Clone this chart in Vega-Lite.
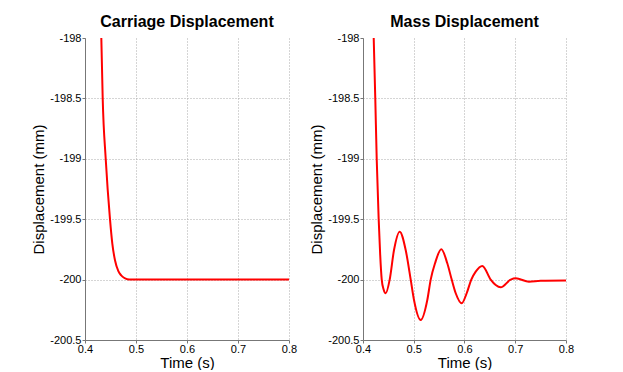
{
  "$schema": "https://vega.github.io/schema/vega-lite/v6.json",
  "background": "white",
  "padding": {"left": 31, "top": 14, "right": 5, "bottom": 0},
  "spacing": 74,
  "bounds": "flush",
  "datasets": {
    "carriage": [
      {"t": 0.432, "d": -198.0},
      {"t": 0.4347, "d": -198.5},
      {"t": 0.4406, "d": -199.0},
      {"t": 0.449, "d": -199.5},
      {"t": 0.4535, "d": -199.7},
      {"t": 0.4588, "d": -199.84},
      {"t": 0.4654, "d": -199.93},
      {"t": 0.471, "d": -199.965},
      {"t": 0.4765, "d": -199.985},
      {"t": 0.483, "d": -199.997},
      {"t": 0.49, "d": -200.0},
      {"t": 0.6, "d": -200.0},
      {"t": 0.7, "d": -200.0},
      {"t": 0.8, "d": -200.0}
    ],
    "mass": [
      {"t": 0.4211, "d": -198.0},
      {"t": 0.4242, "d": -198.5},
      {"t": 0.427, "d": -199.0},
      {"t": 0.4309, "d": -199.5},
      {"t": 0.4337, "d": -199.78},
      {"t": 0.4369, "d": -200.0},
      {"t": 0.4405, "d": -200.08},
      {"t": 0.4447, "d": -200.113},
      {"t": 0.4526, "d": -200.0},
      {"t": 0.4611, "d": -199.755},
      {"t": 0.4723, "d": -199.603},
      {"t": 0.4841, "d": -199.755},
      {"t": 0.494, "d": -200.0},
      {"t": 0.5005, "d": -200.169},
      {"t": 0.5137, "d": -200.334},
      {"t": 0.5267, "d": -200.169},
      {"t": 0.5334, "d": -200.0},
      {"t": 0.5419, "d": -199.865},
      {"t": 0.5543, "d": -199.749},
      {"t": 0.5661, "d": -199.865},
      {"t": 0.5748, "d": -200.0},
      {"t": 0.5827, "d": -200.113},
      {"t": 0.5945, "d": -200.196},
      {"t": 0.6043, "d": -200.113},
      {"t": 0.6134, "d": -200.0},
      {"t": 0.6221, "d": -199.934},
      {"t": 0.6351, "d": -199.887},
      {"t": 0.6516, "d": -200.0},
      {"t": 0.6615, "d": -200.045},
      {"t": 0.6713, "d": -200.064},
      {"t": 0.691, "d": -200.0},
      {"t": 0.7009, "d": -199.989},
      {"t": 0.7271, "d": -200.017},
      {"t": 0.75, "d": -200.01},
      {"t": 0.8, "d": -200.008}
    ]
  },
  "config": {
    "font": "Liberation Sans",
    "locale": {"number": {"decimal": ".", "thousands": ",", "grouping": [3], "currency": ["$", ""], "minus": "-"}},
    "view": {"stroke": null},
    "axis": {
      "labelFont": "Liberation Sans",
      "labelFontSize": 11,
      "labelColor": "#000",
      "labelFlush": false,
      "titleFont": "Liberation Sans",
      "titleFontSize": 15,
      "titleFontWeight": "normal",
      "titleColor": "#000",
      "domainColor": "#777",
      "tickColor": "#777",
      "tickSize": 3,
      "gridColor": "#aaa",
      "gridDash": [1, 2],
      "gridWidth": 1
    },
    "axisX": {"labelPadding": 0, "titlePadding": 1},
    "axisY": {"labelPadding": 1, "titlePadding": 3},
    "title": {"font": "Liberation Sans", "fontSize": 16, "fontWeight": "bold", "color": "#000", "offset": 2}
  },
  "hconcat": [
    {
      "title": "Carriage Displacement",
      "width": 204,
      "height": 302,
      "data": {"name": "carriage"},
      "mark": {"type": "line", "color": "#ff0000", "strokeWidth": 2, "interpolate": "monotone", "clip": true},
      "encoding": {
        "x": {"field": "t", "type": "quantitative", "scale": {"domain": [0.4, 0.8], "nice": false, "zero": false},
              "axis": {"values": [0.4, 0.5, 0.6, 0.7, 0.8], "format": "~g", "title": "Time (s)"}},
        "y": {"field": "d", "type": "quantitative", "scale": {"domain": [-200.5, -198], "nice": false, "zero": false},
              "axis": {"values": [-200.5, -200, -199.5, -199, -198.5, -198], "format": "~g", "title": "Displacement (mm)",
                       "gridOpacity": {"condition": {"test": "datum.value == -198", "value": 0}, "value": 1}}}
      }
    },
    {
      "title": "Mass Displacement",
      "width": 203,
      "height": 302,
      "data": {"name": "mass"},
      "mark": {"type": "line", "color": "#ff0000", "strokeWidth": 2, "interpolate": "monotone", "clip": true},
      "encoding": {
        "x": {"field": "t", "type": "quantitative", "scale": {"domain": [0.4, 0.8], "nice": false, "zero": false},
              "axis": {"values": [0.4, 0.5, 0.6, 0.7, 0.8], "format": "~g", "title": "Time (s)"}},
        "y": {"field": "d", "type": "quantitative", "scale": {"domain": [-200.5, -198], "nice": false, "zero": false},
              "axis": {"values": [-200.5, -200, -199.5, -199, -198.5, -198], "format": "~g", "title": "Displacement (mm)",
                       "gridOpacity": {"condition": {"test": "datum.value == -198", "value": 0}, "value": 1}}}
      }
    }
  ]
}
